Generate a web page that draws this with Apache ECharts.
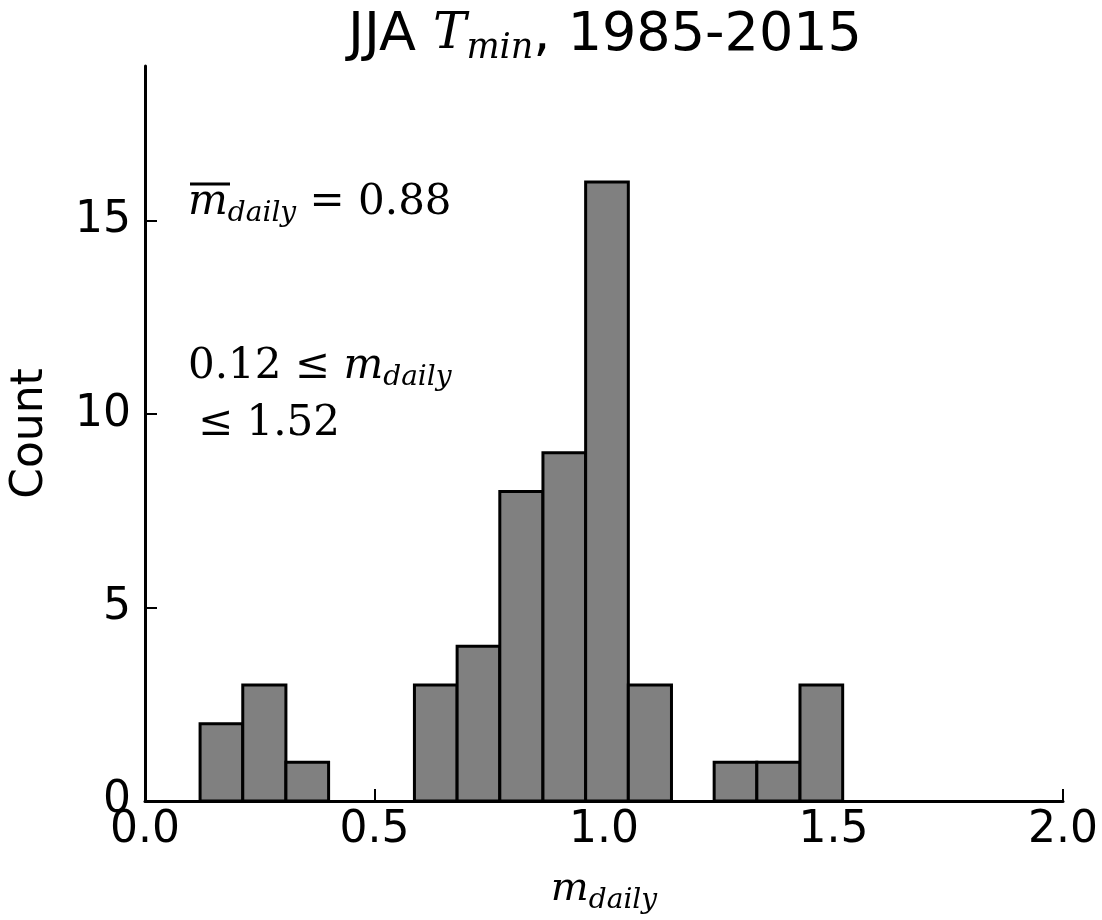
<!DOCTYPE html>
<html>
<head>
<meta charset="utf-8">
<script src="https://cdn.jsdelivr.net/npm/echarts@6/dist/echarts.min.js"></script>
<style>
  html, body { margin: 0; padding: 0; background: #fff; }
  #main { width: 1102px; height: 920px; }
</style>
</head>
<body>
<div id="main"></div>
<script>
// histogram bins (left edge, right edge) and counts
var binLeft  = [0.12, 0.213, 0.307, 0.40, 0.493, 0.587, 0.68, 0.773, 0.867, 0.96, 1.053, 1.147, 1.24, 1.333, 1.427];
var binRight = [0.213, 0.307, 0.40, 0.493, 0.587, 0.68, 0.773, 0.867, 0.96, 1.053, 1.147, 1.24, 1.333, 1.427, 1.52];
var counts   = [2, 3, 1, 0, 0, 3, 4, 8, 9, 16, 3, 0, 1, 1, 3];
var xTicks = [0, 0.5, 1.0, 1.5, 2.0];
var yTicks = [0, 5, 10, 15];

var sans = '"DejaVu Sans", sans-serif';
var serif = '"DejaVu Serif", "Liberation Serif", serif';

var dom = document.getElementById('main');
var myChart = echarts.init(dom);

var data = [];
for (var i = 0; i < counts.length; i++) {
    data.push([binLeft[i], binRight[i], counts[i]]);
}

var option = {
    backgroundColor: '#fff',
    animation: false,
    title: {
        text: '{a|JJA }{m|T}{s|min}{a|, 1985-2015}',
        left: 600,
        textAlign: 'center',
        top: 0,
        textStyle: {
            fontWeight: 'normal',
            rich: {
                a: { fontFamily: sans, fontWeight: 'normal', fontSize: 54, color: '#000' },
                m: { fontFamily: serif, fontWeight: 'normal', fontStyle: 'italic', fontSize: 50, color: '#000' },
                s: { fontFamily: serif, fontWeight: 'normal', fontStyle: 'italic', fontSize: 35, color: '#000', padding: [26, 0, 0, 0] }
            }
        }
    },
    grid: {
        left: 145,
        right: 39,
        top: 66,
        bottom: 119,
        outerBoundsMode: 'none'
    },
    xAxis: {
        type: 'value',
        min: 0,
        max: 2,
        interval: 0.5,
        name: '{m|m}{s|daily}',
        nameLocation: 'middle',
        nameGap: 64,
        nameTextStyle: {
            rich: {
                m: { fontFamily: serif, fontStyle: 'italic', fontSize: 40, color: '#000' },
                s: { fontFamily: serif, fontStyle: 'italic', fontSize: 28, color: '#000', padding: [22, 0, 0, 0] }
            }
        },
        axisLine: { lineStyle: { color: '#000', width: 3 } },
        axisTick: { inside: true, length: 12, lineStyle: { color: '#000', width: 2 }, customValues: xTicks },
        axisLabel: {
            color: '#000', fontFamily: sans, fontSize: 44, margin: 8,
            customValues: xTicks,
            formatter: function (v) { return v.toFixed(1); }
        },
        splitLine: { show: false }
    },
    yAxis: {
        type: 'value',
        min: 0,
        max: 19,
        name: 'Count',
        nameLocation: 'middle',
        nameRotate: 90,
        nameGap: 92,
        nameTextStyle: { color: '#000', fontFamily: sans, fontSize: 44 },
        axisLine: { show: true, lineStyle: { color: '#000', width: 3 } },
        axisTick: { show: true, inside: true, length: 12, lineStyle: { color: '#000', width: 2 }, customValues: yTicks },
        axisLabel: { color: '#000', fontFamily: sans, fontSize: 44, margin: 14, customValues: yTicks },
        splitLine: { show: false }
    },
    graphic: [
        {
            type: 'text',
            left: 188,
            top: 182,
            style: {
                text: '{m|m}{s|daily}{n| = 0.88}',
                rich: {
                    m: { fontFamily: serif, fontStyle: 'italic', fontSize: 42, fill: '#000' },
                    s: { fontFamily: serif, fontStyle: 'italic', fontSize: 28, fill: '#000', padding: [22, 0, 0, 0] },
                    n: { fontFamily: serif, fontSize: 42, fill: '#000' }
                }
            }
        },
        {
            type: 'line',
            z: 10,
            shape: { x1: 190, y1: 184, x2: 230, y2: 184 },
            style: { stroke: '#000', lineWidth: 3 }
        },
        {
            type: 'text',
            left: 188,
            top: 346,
            style: {
                text: '{n|0.12 ≤ }{m|m}{s|daily}',
                rich: {
                    m: { fontFamily: serif, fontStyle: 'italic', fontSize: 42, fill: '#000' },
                    s: { fontFamily: serif, fontStyle: 'italic', fontSize: 28, fill: '#000', padding: [22, 0, 0, 0] },
                    n: { fontFamily: serif, fontSize: 42, fill: '#000' }
                }
            }
        },
        {
            type: 'text',
            left: 198,
            top: 403,
            style: {
                text: '≤ 1.52',
                font: '42px ' + serif,
                fill: '#000'
            }
        }
    ],
    series: [{
        type: 'custom',
        data: data,
        encode: { x: [0, 1], y: 2 },
        renderItem: function (params, api) {
            var h = api.value(2);
            if (!h) return null;
            var p0 = api.coord([api.value(0), h]);
            var p1 = api.coord([api.value(1), 0]);
            return {
                type: 'rect',
                shape: { x: p0[0], y: p0[1], width: p1[0] - p0[0], height: p1[1] - p0[1] },
                style: { fill: '#808080', stroke: '#000', lineWidth: 3 }
            };
        }
    }]
};
myChart.setOption(option);
</script>
</body>
</html>
